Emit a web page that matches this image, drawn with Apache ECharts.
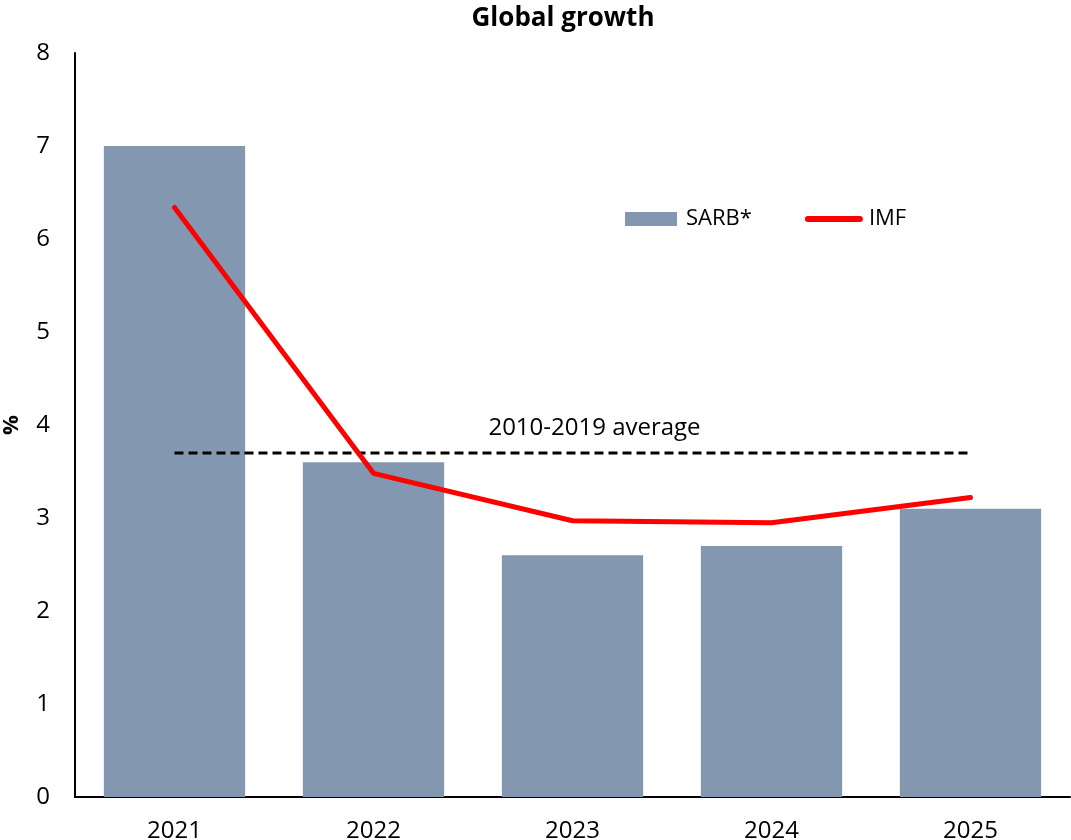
<!DOCTYPE html>
<html>
<head>
<meta charset="utf-8">
<script src="https://cdn.jsdelivr.net/npm/echarts@6/dist/echarts.min.js"></script>
<style>
  html, body { margin: 0; padding: 0; background: #fff; }
  #chart { width: 1071px; height: 840px; }
</style>
</head>
<body>
<div id="chart"></div>
<script>
// Global growth: SARB forecasts vs IMF, with the 2010-2019 average
const years = ['2021', '2022', '2023', '2024', '2025'];
const sarb = [7.0, 3.6, 2.6, 2.7, 3.1];
const imf = [6.34, 3.48, 2.97, 2.95, 3.22];
const avg2010to2019 = 3.7;
const yTicks = [0, 1, 2, 3, 4, 5, 6, 7, 8];

const FONT = '"Open Sans", sans-serif';
const avgLine = years.map(() => avg2010to2019);

const chart = echarts.init(document.getElementById('chart'));
chart.setOption({
  animation: false,
  textStyle: { fontFamily: FONT },
  title: {
    text: 'Global growth',
    left: 558, top: 1, textAlign: 'center',
    textStyle: { fontFamily: FONT, fontWeight: 'bold', fontSize: 26, color: '#000' }
  },
  legend: {
    left: 625, top: 208, padding: 0,
    itemWidth: 52, itemHeight: 14, itemGap: 53,
    textStyle: { fontFamily: FONT, fontSize: 22, color: '#000', padding: [0, 0, 0, 4] },
    data: [
      { name: 'SARB*', icon: 'rect' },
      {
        name: 'IMF',
        itemStyle: { color: 'rgba(0,0,0,0)', borderWidth: 0 },
        lineStyle: { color: '#FF0000', width: 6, cap: 'round' }
      }
    ]
  },
  grid: { left: 75, right: 1, top: 53, bottom: 43, containLabel: false, outerBoundsMode: 'none' },
  xAxis: {
    type: 'category',
    data: years,
    axisLine: { lineStyle: { color: '#000', width: 2 } },
    axisTick: { show: false },
    axisLabel: { fontFamily: FONT, fontSize: 24, color: '#000', margin: 22 }
  },
  yAxis: {
    type: 'value',
    min: yTicks[0], max: yTicks[yTicks.length - 1], interval: 1,
    name: '%',
    nameLocation: 'middle', nameRotate: 90, nameGap: 52,
    nameTextStyle: { fontFamily: FONT, fontSize: 22, fontWeight: 'bold', color: '#000' },
    axisLine: { show: true, lineStyle: { color: '#000', width: 2 } },
    axisTick: { show: false },
    splitLine: { show: false },
    axisLabel: { fontFamily: FONT, fontSize: 24, color: '#000', margin: 25 }
  },
  series: [
    {
      name: 'SARB*',
      type: 'bar',
      data: sarb,
      barWidth: '71%',
      itemStyle: { color: '#8497B0' },
      z: 1
    },
    {
      name: '2010-2019 average',
      type: 'line',
      data: avgLine,
      symbol: 'none',
      lineStyle: { color: '#000', width: 3, type: [9, 5] },
      z: 2,
      markPoint: {
        symbol: 'circle', symbolSize: 0,
        data: [{ coord: [2, avg2010to2019], value: '2010-2019 average' }],
        label: {
          show: true, position: 'top', distance: 13, offset: [22, 0],
          formatter: '2010-2019 average',
          fontFamily: FONT, fontSize: 24, color: '#000'
        }
      }
    },
    {
      name: 'IMF',
      type: 'line',
      data: imf,
      symbol: 'none',
      lineStyle: { color: '#FF0000', width: 5, cap: 'round' },
      itemStyle: { color: '#FF0000' },
      z: 3
    }
  ]
});
</script>
</body>
</html>
